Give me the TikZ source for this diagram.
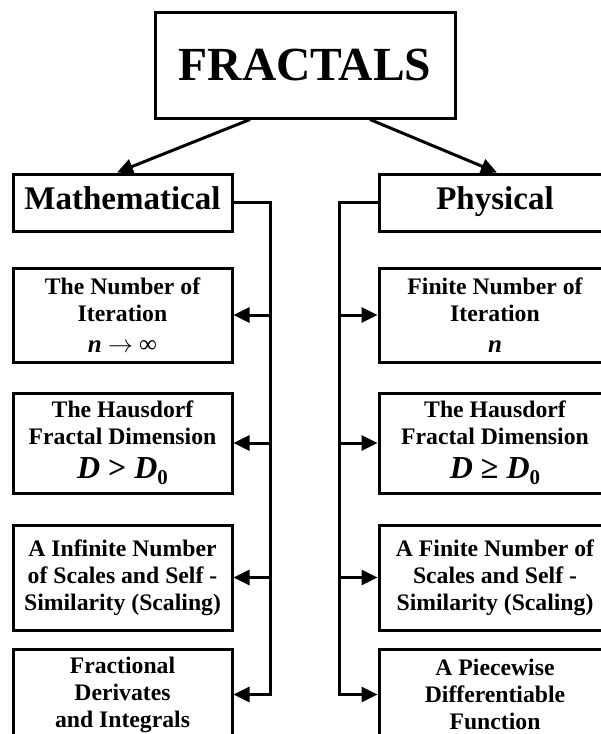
\documentclass[tikz,border=0pt]{standalone}
\usepackage{fontspec}
\setmainfont{Liberation Serif}
\usetikzlibrary{arrows.meta}
\newcommand\bitx[1]{{\bfseries\itshape #1}}
\newcommand\bigline[1]{{\fontsize{32}{32}\selectfont #1}}
\newcommand\subzero{\raisebox{-6pt}{\fontsize{21}{21}\selectfont\bfseries 0}}
\tikzset{
  box/.style={draw, line width=3pt, inner sep=0pt, align=center,
    font=\fontsize{23.7}{27}\selectfont\bfseries},
  lbox/.style={box, minimum width=219pt},
  rbox/.style={box, minimum width=232pt},
  headbox/.style={draw, line width=3pt, inner sep=0pt, minimum height=57pt,
    text height=22pt, text depth=8pt,
    font=\fontsize{33}{33}\selectfont\bfseries},
  conn/.style={line width=3pt, -{Triangle[length=16pt,width=15pt]}},
}
\begin{document}
\begin{tikzpicture}[x=1pt,y=-1pt]
\clip (0,0) rectangle (601,734);
\fill[white] (0,0) rectangle (601,734);
% top
\node[draw, line width=3pt, minimum width=300pt, minimum height=106pt,
  font=\fontsize{47.5}{47.5}\selectfont\bfseries] (top) at (305,65) {FRACTALS};
\node[headbox, minimum width=219pt] (math) at (122.5,202.5) {Mathematical};
\node[headbox, minimum width=232pt] (phys) at (495,202.5) {Physical};
\draw[conn] ([xshift=-55pt]top.south) -- ([xshift=-5.5pt]math.north);
\draw[conn] ([xshift=65pt]top.south) -- ([xshift=2pt]phys.north);
% left boxes
\node[lbox, minimum height=94pt] (L1) at (122.5,315)
  {The Number of\\Iteration\\[4pt]{\fontsize{25}{25}\selectfont\bitx{n} $\rightarrow$ {\mdseries ∞}}};
\node[lbox, minimum height=100pt] (L2) at (122.5,443)
  {The Hausdorf\\Fractal Dimension\\[7pt]\bigline{\bitx{D} > \bitx{D}\subzero}};
\node[lbox, minimum height=105pt] (L3) at (122.5,577.5)
  {A Infinite Number\\of Scales and Self -\\Similarity (Scaling)};
\node[lbox, minimum height=91pt] (L4) at (122.5,694.5)
  {Fractional\\Derivates\\and Integrals};
% right boxes
\node[rbox, minimum height=94pt] (R1) at (495,315)
  {Finite Number of\\Iteration\\[4pt]{\fontsize{25}{25}\selectfont\bitx{n}}};
\node[rbox, minimum height=100pt] (R2) at (495,443)
  {The Hausdorf\\Fractal Dimension\\[7pt]\bigline{\bitx{D} ≥ \bitx{D}\subzero}};
\node[rbox, minimum height=105pt] (R3) at (495,577.5)
  {A Finite Number of\\Scales and Self -\\Similarity (Scaling)};
\node[rbox, minimum height=91pt] (R4) at (495,694.5)
  {A Piecewise\\Differentiable\\Function};
% spines
\coordinate (ls) at (270,0);
\coordinate (rs) at (339,0);
\draw[conn] (math.east) -| (ls|-L4.east) -- (L4.east);
\draw[conn] (ls|-L1.east) -- (L1.east);
\draw[conn] (ls|-L2.east) -- (L2.east);
\draw[conn] (ls|-L3.east) -- (L3.east);
\draw[conn] (phys.west) -| (rs|-R4.west) -- (R4.west);
\draw[conn] (rs|-R1.west) -- (R1.west);
\draw[conn] (rs|-R2.west) -- (R2.west);
\draw[conn] (rs|-R3.west) -- (R3.west);
\end{tikzpicture}
\end{document}
